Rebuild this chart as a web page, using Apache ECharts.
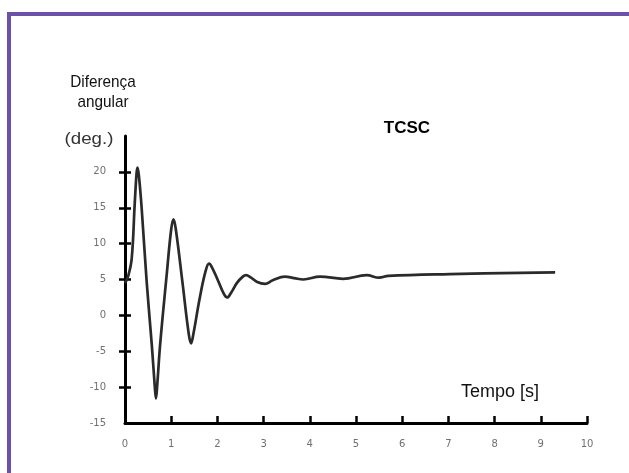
<!DOCTYPE html>
<html>
<head>
<meta charset="utf-8">
<script src="https://cdn.jsdelivr.net/npm/echarts@6/dist/echarts.min.js"></script>
<style>
  html, body { margin: 0; padding: 0; background: #ffffff; }
  #chart { width: 629px; height: 473px; }
</style>
</head>
<body>
<div id="chart"></div>
<script>
// Time (s)
var timeValues = [0.00, 0.07, 0.145, 0.21, 0.25, 0.27, 0.30, 0.36, 0.47, 0.58, 0.64, 0.67, 0.70, 0.76, 0.90, 1.00, 1.05, 1.10, 1.24, 1.38, 1.43, 1.48, 1.62, 1.75, 1.82, 1.89, 2.01, 2.14, 2.21, 2.30, 2.42, 2.55, 2.62, 2.72, 2.85, 3.03, 3.20, 3.46, 3.66, 3.86, 4.22, 4.72, 5.23, 5.50, 5.70, 7.03, 9.31];
// Angular difference (deg.)
var angleValues = [4.5, 5.5, 7.9, 15.5, 19.8, 20.6, 19.5, 15.0, 4.6, -4.1, -9.5, -11.6, -9.5, -4.1, 5.5, 12.0, 13.4, 12.0, 4.8, -2.6, -3.9, -2.6, 2.5, 6.3, 7.2, 6.6, 4.9, 3.0, 2.5, 3.2, 4.5, 5.4, 5.6, 5.3, 4.7, 4.4, 4.9, 5.4, 5.2, 5.0, 5.4, 5.1, 5.6, 5.25, 5.5, 5.75, 6.0];
var yTickValues = [-10, -5, 0, 5, 10, 15, 20];
var yLabelValues = [-15, -10, -5, 0, 5, 10, 15, 20];

var seriesData = timeValues.map(function (t, i) { return [t, angleValues[i]]; });

var chart = echarts.init(document.getElementById('chart'), null, { renderer: 'canvas' });
var labelStyle = { color: '#707070', fontSize: 10, fontFamily: 'DejaVu Sans' };

chart.setOption({
  animation: false,
  backgroundColor: '#ffffff',
  grid: { left: 125, right: 42, top: 136, bottom: 50, containLabel: false },
  xAxis: {
    type: 'value', min: 0, max: 10, interval: 1,
    axisLine: { onZero: false, lineStyle: { color: '#000', width: 3 } },
    axisTick: { inside: true, length: 7, lineStyle: { color: '#000', width: 2.5 } },
    axisLabel: Object.assign({ margin: 16 }, labelStyle),
    splitLine: { show: false }
  },
  yAxis: [
    {
      type: 'value', min: -15, max: 25, interval: 5, position: 'left',
      axisLine: { show: true, onZero: false, lineStyle: { color: '#000', width: 3 } },
      axisTick: { show: true, inside: false, length: 6, customValues: yTickValues, lineStyle: { color: '#000', width: 2.5 } },
      axisLabel: Object.assign({ margin: 19, customValues: yLabelValues,
        formatter: function (v) { return v === 25 ? '' : String(v); } }, labelStyle),
      splitLine: { show: false }
    },
    {
      type: 'value', min: -15, max: 25, interval: 5, position: 'right', offset: -462,
      axisLine: { show: false, onZero: false },
      axisTick: { show: true, inside: false, length: 6, customValues: yTickValues, lineStyle: { color: '#000', width: 2.5 } },
      axisLabel: { show: false },
      splitLine: { show: false }
    }
  ],
  series: [{
    type: 'line',
    data: seriesData,
    xAxisIndex: 0,
    yAxisIndex: 0,
    smooth: 0.4,
    showSymbol: false,
    symbol: 'none',
    lineStyle: { color: '#2a2a2a', width: 2.7 },
    z: 3
  }],
  graphic: [
    { type: 'rect', z: 100, silent: true,
      shape: { x: 9, y: 14, width: 700, height: 600 },
      style: { fill: 'none', stroke: '#6b52a8', lineWidth: 4 } },
    { type: 'text', z: 100, x: 103, y: 82, scaleX: 0.9,
      style: { text: 'Diferença', fill: '#111', font: '17px "Liberation Sans", Arial, sans-serif', align: 'center', verticalAlign: 'middle' } },
    { type: 'text', z: 100, x: 103, y: 102, scaleX: 0.9,
      style: { text: 'angular', fill: '#111', font: '17px "Liberation Sans", Arial, sans-serif', align: 'center', verticalAlign: 'middle' } },
    { type: 'text', z: 100, x: 89, y: 139, scaleX: 1.1,
      style: { text: '(deg.)', fill: '#333', font: '17px "Liberation Sans", Arial, sans-serif', align: 'center', verticalAlign: 'middle' } },
    { type: 'text', z: 100, x: 407, y: 128,
      style: { text: 'TCSC', fill: '#000', font: 'bold 17px "Liberation Sans", Arial, sans-serif', align: 'center', verticalAlign: 'middle' } },
    { type: 'text', z: 100, x: 500, y: 392,
      style: { text: 'Tempo [s]', fill: '#111', font: '18px "Liberation Sans", Arial, sans-serif', align: 'center', verticalAlign: 'middle' } }
  ]
});
</script>
</body>
</html>
